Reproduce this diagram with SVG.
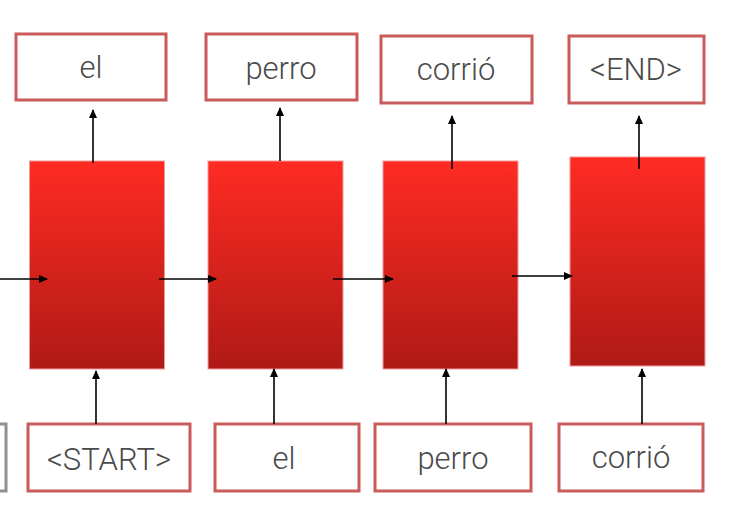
<svg xmlns="http://www.w3.org/2000/svg" width="742" height="512" viewBox="0 0 742 512">
<style>
.box{fill:#fff;stroke:#C95B5B;stroke-width:3}
.gbox{fill:#fff;stroke:#8E9296;stroke-width:3}
.cell{fill:url(#rg);stroke:#F09A9A;stroke-width:1}
.lbl{font-family:Roboto,"Liberation Sans",sans-serif;font-weight:300;font-size:31px;fill:#4A4A4A;text-anchor:middle}
.con line{stroke:#000;stroke-width:1.6;marker-end:url(#ah)}
</style>
<defs>
<linearGradient id="rg" x1="0" y1="0" x2="0" y2="1">
<stop offset="0" stop-color="#FF2B23"/>
<stop offset="1" stop-color="#AF1A16"/>
</linearGradient>
<marker id="ah" markerWidth="10" markerHeight="10" refX="8" refY="4" orient="auto" markerUnits="userSpaceOnUse">
<path d="M0,0 L9,4 L0,8 Z" fill="#000"/>
</marker>
</defs>
<g id="out-el"><rect class="box" x="16" y="34" width="150" height="66"/><text class="lbl" x="91" y="78">el</text></g>
<g id="out-perro"><rect class="box" x="206" y="34" width="151" height="66"/><text class="lbl" x="281" y="79">perro</text></g>
<g id="out-corrio"><rect class="box" x="381" y="36" width="151" height="67"/><text class="lbl" x="456" y="80">corrió</text></g>
<g id="out-end"><rect class="box" x="569" y="36" width="135" height="67"/><text class="lbl" x="636" y="80">&lt;END&gt;</text></g>
<g id="cell1"><rect class="cell" x="29.5" y="161" width="135" height="208"/></g>
<g id="cell2"><rect class="cell" x="208" y="161" width="135" height="208"/></g>
<g id="cell3"><rect class="cell" x="383" y="161" width="135" height="208"/></g>
<g id="cell4"><rect class="cell" x="570" y="157" width="135" height="209"/></g>
<g id="in-prev"><rect class="gbox" x="-100" y="424" width="106" height="67"/></g>
<g id="in-start"><rect class="box" x="28" y="424" width="162" height="67"/><text class="lbl" x="109" y="470">&lt;START&gt;</text></g>
<g id="in-el"><rect class="box" x="215" y="424" width="144" height="67"/><text class="lbl" x="284" y="469">el</text></g>
<g id="in-perro"><rect class="box" x="375" y="424" width="156" height="67"/><text class="lbl" x="453" y="469">perro</text></g>
<g id="in-corrio"><rect class="box" x="559" y="424" width="144" height="67"/><text class="lbl" x="631" y="468">corrió</text></g>
<g id="connectors" class="con">
<line x1="93" y1="163" x2="93" y2="110"/>
<line x1="280" y1="161" x2="280" y2="108"/>
<line x1="452" y1="169" x2="452" y2="116"/>
<line x1="639" y1="169" x2="639" y2="116"/>
<line x1="0" y1="279" x2="47" y2="279"/>
<line x1="159" y1="279" x2="216" y2="279"/>
<line x1="333" y1="279" x2="393" y2="279"/>
<line x1="512" y1="276" x2="572" y2="276"/>
<line x1="96" y1="424" x2="96" y2="371"/>
<line x1="274" y1="424" x2="274" y2="369"/>
<line x1="446" y1="424" x2="446" y2="369"/>
<line x1="642" y1="424" x2="642" y2="369"/>
</g>
</svg>
